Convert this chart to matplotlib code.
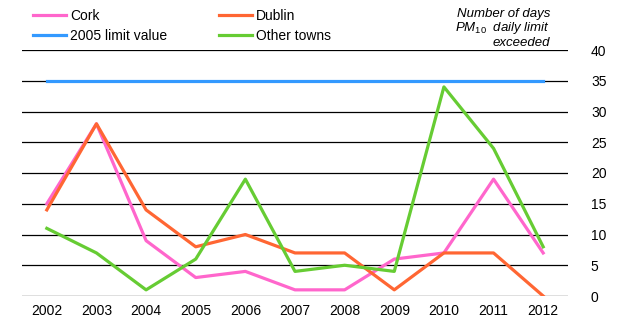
import matplotlib
matplotlib.use("Agg")
import matplotlib.pyplot as plt

years = ["2002", "2003", "2004", "2005", "2006", "2007", "2008", "2009", "2010", "2011", "2012"]
cork = [15, 28, 9, 3, 4, 1, 1, 6, 7, 19, 7]
dublin = [14, 28, 14, 8, 10, 7, 7, 1, 7, 7, 0]
limit_2005 = [35] * 11
other_towns = [11, 7, 1, 6, 19, 4, 5, 4, 34, 24, 8]
yticks = [0, 5, 10, 15, 20, 25, 30, 35, 40]

plt.rcParams['font.family'] = ['Liberation Sans', 'DejaVu Sans']
plt.rcParams['mathtext.fontset'] = 'custom'
plt.rcParams['mathtext.rm'] = 'Liberation Sans'
plt.rcParams['mathtext.it'] = 'Liberation Sans:italic'
fs = 10

fig = plt.figure(figsize=(6.2, 3.31), dpi=100)
ax = fig.add_axes([22/620, 35/331, (568-22)/620, (296-50)/331])

x = list(range(len(years)))
lw = 2.3
ax.plot(x, cork, color="#FF66CC", lw=lw, label="Cork", zorder=3)
ax.plot(x, dublin, color="#FF6633", lw=lw, label="Dublin", zorder=4)
ax.plot(x, limit_2005, color="#3399FF", lw=lw, label="2005 limit value", zorder=3)
ax.plot(x, other_towns, color="#66CC33", lw=lw, label="Other towns", zorder=5)

ax.set_xlim(-0.5, len(years) - 0.5)
ax.set_ylim(0, 40)
ax.set_yticks(yticks)
ax.yaxis.tick_right()
ax.tick_params(axis='y', length=0, pad=16.5, labelsize=fs)
ax.tick_params(axis='x', length=0, pad=6, labelsize=fs)
ax.set_xticks(x)
ax.set_xticklabels(years)
for v in yticks:
    ax.axhline(v, color="black", lw=0.9, zorder=1)
for s in ax.spines.values():
    s.set_visible(False)

handles, labels = ax.get_legend_handles_labels()
order = [0, 2, 1, 3]
fig.legend([handles[i] for i in order], [labels[i] for i in order],
           loc="upper left", bbox_to_anchor=(33/620, 1 - 9/331), ncol=2, frameon=False,
           fontsize=fs, handlelength=2.37, handletextpad=0.29, columnspacing=3.74,
           labelspacing=0.45, borderaxespad=0, borderpad=0)

rx = 550/620
fig.text(rx, 1 - 17/331, "Number of days", ha="right", va="baseline",
         fontsize=9.5, style="italic")
fig.text(rx, 1 - 31.5/331, r"$\mathit{PM_{10}}$  daily limit", ha="right", va="baseline",
         fontsize=9.5, style="italic")
fig.text(rx, 1 - 46/331, "exceeded", ha="right", va="baseline",
         fontsize=9.5, style="italic")

fig.savefig("out.png", dpi=100)
